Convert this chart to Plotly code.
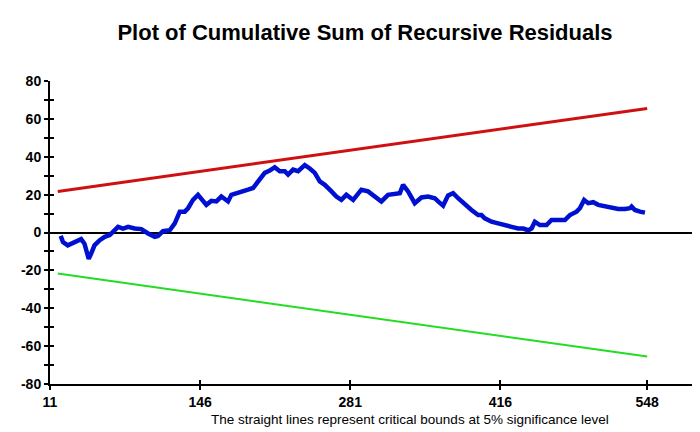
import plotly.graph_objects as go

# Cumulative sum of recursive residuals
obs = [20.6, 22.7, 27, 31.7, 36, 39, 42, 44.6, 45.8, 48, 51, 55.7, 60.2, 64.7, 67.7,
       72.2, 76.7, 81.2, 87.2, 93.1, 99.2, 105.2, 108.1, 112.6, 118.7, 123.2, 127.7,
       132.2, 135.1, 139.6, 144.1, 147.1, 151.6, 156.1, 160.6, 165.1, 171.1, 174.1,
       180.1, 186.1, 189.1, 193.6, 198.1, 204.1, 208.6, 213.1, 217.6, 222.1, 225.1,
       229.6, 234.1, 240.1, 244.6, 249.1, 253.6, 258.1, 264.1, 268.5, 273, 277.5,
       283.6, 291, 297, 303.1, 309, 315, 321, 325.6, 328.5, 333, 339, 345, 351, 357,
       360, 364.5, 369, 373.5, 378, 384, 390, 396, 399, 402, 408, 414, 420, 426, 432,
       436.5, 441, 444, 447, 451.5, 457.5, 462, 468, 474, 478.5, 484.5, 487.5, 491.3,
       495, 499.5, 504, 510, 516, 522, 528, 532.5, 534, 537, 541.5, 546]
cusum = [-1.8, -5, -6.8, -5.5, -4.1, -3.5, -5.9, -11.2, -13.9, -11.2, -6.8, -4.1, -2.3,
         -1.4, 0.4, 3, 2.1, 3, 2.1, 1.8, -0.5, -2.3, -1.8, 0.7, 1.2, 4.8, 11, 11, 12.8,
         17.2, 19.9, 18.1, 14.6, 16.7, 16.4, 19, 16.4, 19.9, 20.8, 21.7, 22.6, 23.5, 27,
         31.5, 32.7, 34.5, 32.4, 32.4, 30.6, 33.2, 32.4, 35.6, 33.8, 31.5, 27, 25.2,
         21.7, 19, 17.2, 19.9, 17.2, 22.6, 21.7, 19, 16.4, 19.9, 20.3, 20.8, 25.2, 21.7,
         15.5, 18.5, 19, 18.1, 16.4, 14.2, 19.6, 20.8, 18.1, 14.6, 11.9, 9.2, 9.2, 7.5,
         5.7, 4.8, 3.6, 3, 2.1, 2.1, 1.2, 2.1, 5.7, 3.9, 3.9, 6.6, 6.6, 6.6, 9.2, 11,
         12.8, 17.2, 15.5, 16, 14.6, 13.7, 12.8, 12.4, 12.4, 12.8, 13.7, 11.9, 11, 10.5]

# 5% critical bounds (straight lines)
bound_x = [18, 548]
upper = [21.7, 65.5]
lower = [-21.7, -65.5]

x_ticks = [11, 146, 281, 416, 548]
y_ticks = [-80, -60, -40, -20, 0, 20, 40, 60, 80]
x_range = [11, 600]
y_range = [-80, 80]

fig = go.Figure()
fig.add_trace(go.Scatter(x=bound_x, y=lower, mode="lines",
                         line=dict(color="#22dd22", width=2), showlegend=False))
fig.add_trace(go.Scatter(x=obs, y=cusum, mode="lines",
                         line=dict(color="#0010d0", width=4.5), showlegend=False))
# upper bound drawn on the overlay axes (which carry the inward half of the tick crosses)
fig.add_trace(go.Scatter(x=bound_x, y=upper, mode="lines", xaxis="x2", yaxis="y2",
                         line=dict(color="#d01010", width=3), showlegend=False))

tickfont = dict(family="Liberation Sans", size=14, color="black")
fig.update_layout(
    width=700, height=432,
    margin=dict(l=42, r=3, t=73, b=56),
    paper_bgcolor="white", plot_bgcolor="white",
    title=dict(text="<b>Plot of Cumulative Sum of Recursive Residuals</b>",
               x=0.51, xanchor="center", y=0.944, yanchor="middle",
               font=dict(family="Liberation Sans", size=22, color="black")),
    xaxis=dict(range=x_range, tickvals=x_ticks, ticktext=[f"<b>{v}</b>" for v in x_ticks],
               showgrid=False, zeroline=False, showline=True, linecolor="black",
               linewidth=2, ticks="outside", ticklen=4, tickwidth=2, tickcolor="black",
               tickfont=tickfont),
    yaxis=dict(range=y_range, tickvals=y_ticks, ticktext=[f"<b>{v}</b>" for v in y_ticks],
               showgrid=False, zeroline=True, zerolinecolor="black", zerolinewidth=2,
               showline=True, linecolor="black", linewidth=2,
               ticks="outside", ticklen=4, tickwidth=2, tickcolor="black",
               minor=dict(dtick=10, ticks="outside", ticklen=4, tickwidth=2, tickcolor="black"),
               tickfont=tickfont),
    xaxis2=dict(range=x_range, overlaying="x", side="bottom", anchor="y2",
                tickvals=x_ticks, showticklabels=False, showgrid=False, zeroline=False,
                showline=False, ticks="inside", ticklen=4, tickwidth=2, tickcolor="black"),
    yaxis2=dict(range=y_range, overlaying="y", side="left", anchor="x2",
                tickvals=y_ticks, showticklabels=False, showgrid=False, zeroline=False,
                showline=False, ticks="inside", ticklen=4, tickwidth=2, tickcolor="black",
                minor=dict(dtick=10, ticks="inside", ticklen=4, tickwidth=2, tickcolor="black")),
    annotations=[dict(text="The straight lines represent critical bounds at 5% significance level",
                      xref="paper", yref="paper", x=0.55, y=-0.116, xanchor="center",
                      yanchor="middle", showarrow=False,
                      font=dict(family="Liberation Sans", size=13.5, color="black"))],
)

fig.write_html("out.html")
